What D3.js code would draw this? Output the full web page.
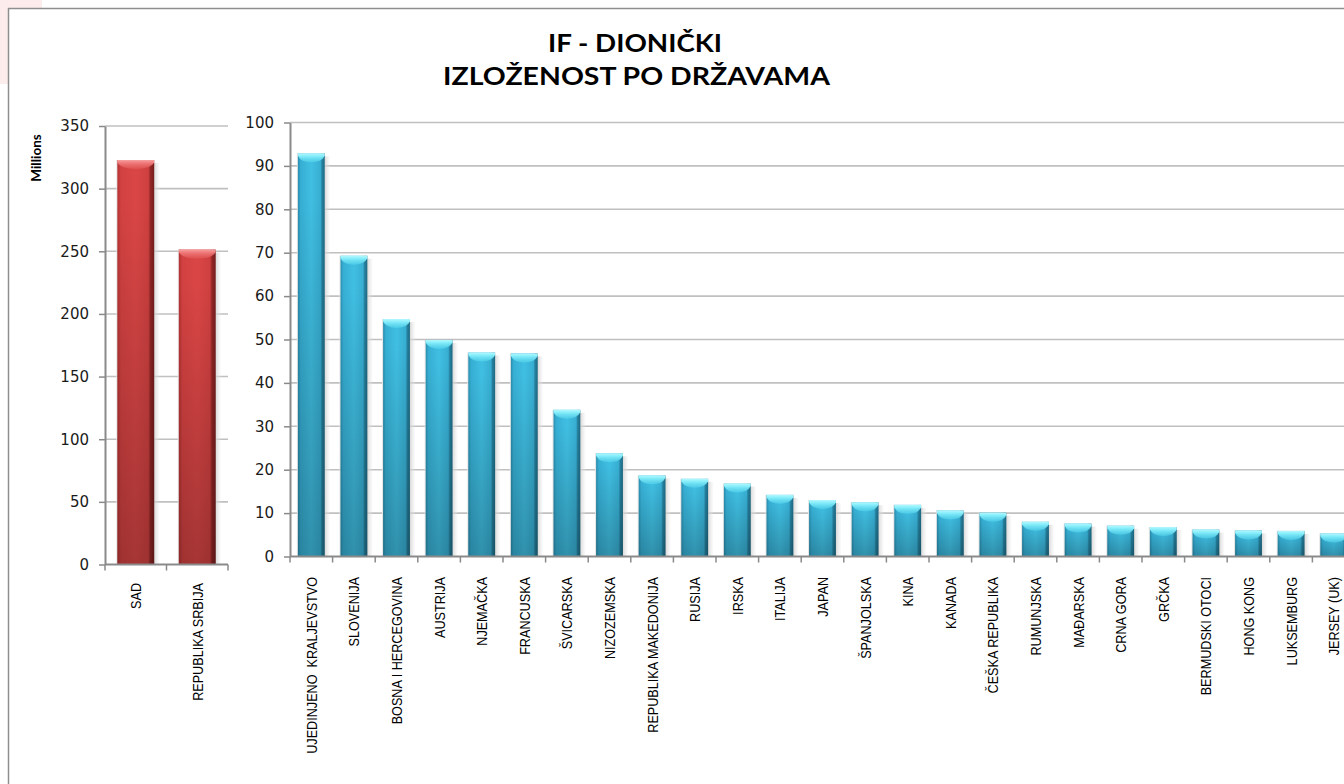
<!DOCTYPE html>
<html><head><meta charset="utf-8">
<script src="https://cdn.jsdelivr.net/npm/d3@7"></script>
<style>
html,body{margin:0;padding:0;background:#fff;overflow:hidden}
svg{display:block}
</style></head><body>
<svg id="chart" width="1344" height="784"></svg>
<script>
const titleLines = ["IF - DIONIČKI", "IZLOŽENOST PO DRŽAVAMA"];
const unitLabel = "Millions";
const leftCategories = ["SAD", "REPUBLIKA SRBIJA"];
const leftValues = [322.8, 251.4];
const leftTicks = [0, 50, 100, 150, 200, 250, 300, 350];
const rightCategories = ["UJEDINJENO  KRALJEVSTVO", "SLOVENIJA", "BOSNA I HERCEGOVINA", "AUSTRIJA", "NJEMAČKA", "FRANCUSKA", "ŠVICARSKA", "NIZOZEMSKA", "REPUBLIKA MAKEDONIJA", "RUSIJA", "IRSKA", "ITALIJA", "JAPAN", "ŠPANJOLSKA", "KINA", "KANADA", "ČEŠKA REPUBLIKA", "RUMUNJSKA", "MAĐARSKA", "CRNA GORA", "GRČKA", "BERMUDSKI OTOCI", "HONG KONG", "LUKSEMBURG", "JERSEY (UK)"];
const rightValues = [92.9, 69.3, 54.7, 49.9, 47.0, 46.8, 33.8, 23.8, 18.7, 17.9, 16.8, 14.2, 13.0, 12.5, 11.9, 10.6, 10.1, 8.0, 7.6, 7.1, 6.8, 6.2, 6.0, 5.9, 5.3];
const rightTicks = [0, 10, 20, 30, 40, 50, 60, 70, 80, 90, 100];

const svg = d3.select("#chart");
const defs = svg.append("defs");

function hGrad(id, stops) {
  const g = defs.append("linearGradient").attr("id", id).attr("x1", 0).attr("x2", 1).attr("y1", 0).attr("y2", 0);
  stops.forEach(([o, c, a]) => g.append("stop").attr("offset", o).attr("stop-color", c).attr("stop-opacity", a == null ? 1 : a));
}
function vGrad(id, stops) {
  const g = defs.append("linearGradient").attr("id", id).attr("x1", 0).attr("x2", 0).attr("y1", 0).attr("y2", 1);
  stops.forEach(([o, c, a]) => g.append("stop").attr("offset", o).attr("stop-color", c).attr("stop-opacity", a == null ? 1 : a));
}
hGrad("blueH", [[0, "#2a8cac"], [0.1, "#36aed3"], [0.5, "#40bfe2"], [0.84, "#37aed2"], [0.9, "#25809e"], [1, "#1d6a84"]]);
hGrad("redH", [[0, "#b03232"], [0.1, "#d24141"], [0.5, "#da4646"], [0.84, "#cf4040"], [0.9, "#922626"], [1, "#761c1c"]]);
vGrad("shadeV", [[0, "#000", 0], [0.1, "#000", 0.0], [1, "#000", 0.24]]);
vGrad("blueCap", [[0, "#b4f7fd"], [0.3, "#86eefb"], [1, "#55d4ec", 0.6]]);
vGrad("redCap", [[0, "#f6a0a0"], [0.3, "#f07c7c"], [1, "#e45a5a", 0.6]]);
hGrad("shadowH", [[0, "#c8c8c8", 0.9], [1, "#e8e8e8", 0.2]]);

// pinkish background remnant at top-left
svg.append("rect").attr("x", 0).attr("y", 0).attr("width", 42).attr("height", 84).attr("fill", "#fdecec");
// chart frame
svg.append("rect").attr("x", 8.5).attr("y", 8.5).attr("width", 1400).attr("height", 800)
  .attr("fill", "#fff").attr("stroke", "#8e8e8e").attr("stroke-width", 1.5);

// title
const title = svg.append("g");
const tPos = [[635, 52, 174], [636.5, 85, 387]];
titleLines.forEach((t, i) => {
  const el = title.append("text").attr("text-anchor", "middle")
    .attr("font-family", "Lato, 'Open Sans', sans-serif").attr("font-weight", "bold")
    .attr("font-size", 24).attr("fill", "#000").text(t);
  const w = el.node().getComputedTextLength();
  const k = tPos[i][2] / w;
  el.attr("transform", `translate(${tPos[i][0]},${tPos[i][1]}) scale(${k},1)`);
});

// Millions label
svg.append("text").attr("transform", "translate(41,158) rotate(-90)")
  .attr("text-anchor", "middle").attr("font-family", "Lato, 'Open Sans', sans-serif")
  .attr("font-weight", "bold").attr("font-size", 13.5).attr("fill", "#000").text(unitLabel);

const labelFont = "'Liberation Sans', Arial, sans-serif";
let labelScale = null;

function panel(cats, vals, ticks, xr, yr, theme, labelY) {
  const n = cats.length;
  const pi = theme === "red" ? 0.4 : 0.37;
  const x = d3.scaleBand().domain(cats).range(xr).paddingInner(pi).paddingOuter(pi / 2);
  const y = d3.scaleLinear().domain([d3.min(ticks), d3.max(ticks)]).range(yr);
  const g = svg.append("g");
  // gridlines
  g.append("g").selectAll("line").data(ticks.filter(t => t > 0)).join("line")
    .attr("x1", xr[0]).attr("x2", xr[1]).attr("y1", d => y(d)).attr("y2", d => y(d))
    .attr("stroke", "#c0c0c0").attr("stroke-width", 1.6);
  // y axis
  const ya = g.append("g").attr("transform", `translate(${xr[0]},0)`)
    .call(d3.axisLeft(y).tickValues(ticks).tickSize(6).tickPadding(10).tickSizeOuter(0));
  ya.select(".domain").attr("stroke", "#8a8a8a").attr("stroke-width", 2);
  ya.selectAll(".tick line").attr("stroke", "#8a8a8a").attr("stroke-width", 1.5);
  ya.selectAll(".tick text").attr("font-family", "'DejaVu Sans', Verdana, sans-serif")
    .attr("font-size", 15).attr("fill", "#1a1a1a");
  // bars
  const bw = x.bandwidth();
  const data = cats.map((c, i) => ({ c, v: vals[i] }));
  const bars = g.append("g").selectAll("g").data(data).join("g");
  bars.append("rect").attr("x", d => x(d.c) + bw - 1).attr("y", d => y(d.v) + 3)
    .attr("width", 6).attr("height", d => y(0) - y(d.v) - 3).attr("fill", "url(#shadowH)");
  bars.append("rect").attr("x", d => x(d.c) - 1).attr("y", d => y(d.v))
    .attr("width", 1).attr("height", d => y(0) - y(d.v)).attr("fill", "#e4e4e4");
  bars.append("rect").attr("x", d => x(d.c)).attr("y", d => y(d.v))
    .attr("width", bw).attr("height", d => y(0) - y(d.v)).attr("fill", `url(#${theme}H)`);
  bars.append("rect").attr("x", d => x(d.c)).attr("y", d => y(d.v))
    .attr("width", bw).attr("height", d => y(0) - y(d.v)).attr("fill", "url(#shadeV)");
  bars.append("path").attr("d", d => {
    const x0 = x(d.c), x1 = x0 + bw, t = y(d.v);
    return `M${x0},${t}H${x1}V${t + 2.5}Q${x1 - 3},${t + 9} ${x0 + bw / 2},${t + 9}Q${x0 + 3},${t + 9} ${x0},${t + 2.5}Z`;
  }).attr("fill", `url(#${theme}Cap)`);
  // x axis
  const step = x.step();
  const bounds = d3.range(n + 1).map(i => xr[0] + i * step);
  g.append("line").attr("x1", xr[0]).attr("x2", xr[1]).attr("y1", y(0)).attr("y2", y(0))
    .attr("stroke", "#8a8a8a").attr("stroke-width", 2);
  g.append("g").selectAll("line").data(bounds).join("line")
    .attr("x1", d => d).attr("x2", d => d).attr("y1", y(0)).attr("y2", y(0) + 6)
    .attr("stroke", "#8a8a8a").attr("stroke-width", 1.5);
  // category labels
  const labs = g.append("g").selectAll("text").data(cats).join("text")
    .attr("text-anchor", "end").attr("dy", "0.35em")
    .attr("font-family", labelFont).attr("font-size", 15.5).attr("fill", "#000")
    .style("white-space", "pre").text(d => d);
  if (labelScale === null) {
    const ref = labs.filter(d => d === "REPUBLIKA SRBIJA").node();
    labelScale = ref ? 118 / ref.getComputedTextLength() : 0.7;
  }
  labs.attr("transform", d => `translate(${x(d) + bw / 2},${labelY}) rotate(-90) scale(${labelScale},1)`);
}

panel(leftCategories, leftValues, leftTicks, [105, 228], [564.5, 126], "red", 583);
panel(rightCategories, rightValues, rightTicks, [290, 1355], [556.5, 122.5], "blue", 577);
</script>
</body></html>
